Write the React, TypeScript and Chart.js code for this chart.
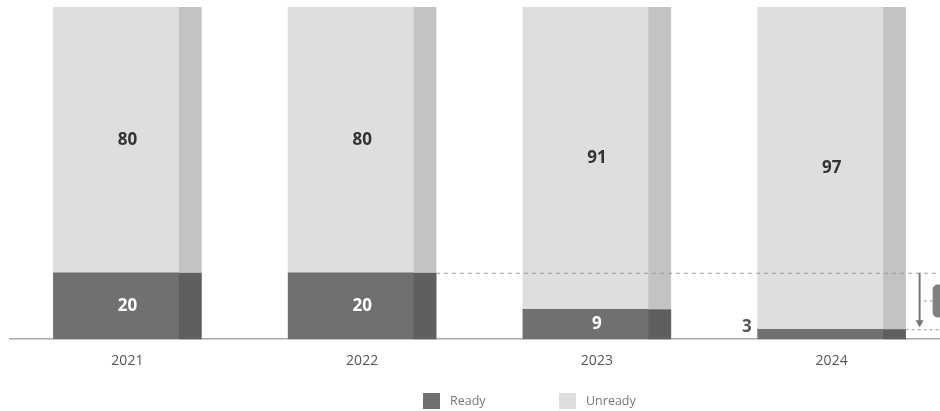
import React, { useEffect, useRef } from "react";
import { Chart, registerables } from "chart.js";

Chart.register(...registerables);

const categories = ["2021", "2022", "2023", "2024"];
const readyValues = [20, 20, 9, 3];
const unreadyValues = [80, 80, 91, 97];
const seriesNames = ["Ready", "Unready"];

const FRONT = ["#707070", "#dedede"];
const SIDE = ["#5f5f5f", "#c3c3c3"];
const FONT = "'Open Sans', 'DejaVu Sans', sans-serif";

const sideFaces = {
  id: "sideFaces",
  afterDatasetsDraw(chart: any) {
    const ctx = chart.ctx;
    ctx.save();
    chart.data.datasets.forEach((_ds: any, di: number) => {
      const meta = chart.getDatasetMeta(di);
      meta.data.forEach((el: any) => {
        const { x, y, base, width } = el.getProps(["x", "y", "base", "width"], true);
        const right = x + width / 2;
        const sw = width * 0.152;
        ctx.fillStyle = SIDE[di];
        ctx.fillRect(right - sw, Math.min(y, base), sw, Math.abs(base - y));
      });
    });
    ctx.restore();
  },
};

const valueLabels = {
  id: "valueLabels",
  afterDatasetsDraw(chart: any) {
    const ctx = chart.ctx;
    ctx.save();
    ctx.font = `bold 17px ${FONT}`;
    ctx.textBaseline = "middle";
    chart.data.datasets.forEach((ds: any, di: number) => {
      const meta = chart.getDatasetMeta(di);
      meta.data.forEach((el: any, i: number) => {
        const { x, y, base, width } = el.getProps(["x", "y", "base", "width"], true);
        const v = ds.data[i];
        const h = Math.abs(base - y);
        if (di === 0 && h < 20) {
          ctx.fillStyle = "#555555";
          ctx.textAlign = "right";
          ctx.fillText(String(v), x - width / 2 - 6, base - 12);
        } else {
          ctx.fillStyle = di === 0 ? "#ffffff" : "#333333";
          ctx.textAlign = "center";
          ctx.fillText(String(v), x, (y + base) / 2);
        }
      });
    });
    ctx.restore();
  },
};

const changeAnnotation = {
  id: "changeAnnotation",
  afterDraw(chart: any) {
    const ctx = chart.ctx;
    const yScale = chart.scales.y;
    const meta = chart.getDatasetMeta(0);
    const el2 = meta.data[1];
    const el4 = meta.data[3];
    const yTop = yScale.getPixelForValue(readyValues[1]);
    const yBot = yScale.getPixelForValue(readyValues[3]);
    const r2 = el2.x + el2.width / 2;
    const r4 = el4.x + el4.width / 2;
    ctx.save();
    ctx.strokeStyle = "#9a9a9a";
    ctx.lineWidth = 1;
    ctx.setLineDash([4, 4]);
    ctx.beginPath();
    ctx.moveTo(r2, yTop + 0.5);
    ctx.lineTo(chart.width, yTop + 0.5);
    ctx.stroke();
    ctx.setLineDash([3, 3]);
    ctx.beginPath();
    ctx.moveTo(r4, yBot + 0.5);
    ctx.lineTo(chart.width, yBot + 0.5);
    ctx.stroke();
    const ax = r4 + 14;
    const mid = (yTop + yBot) / 2;
    ctx.beginPath();
    ctx.moveTo(ax + 4, mid);
    ctx.lineTo(ax + 13, mid);
    ctx.stroke();
    ctx.setLineDash([]);
    ctx.strokeStyle = "#777777";
    ctx.lineWidth = 2;
    ctx.beginPath();
    ctx.moveTo(ax, yTop);
    ctx.lineTo(ax, yBot - 4);
    ctx.stroke();
    ctx.fillStyle = "#777777";
    ctx.beginPath();
    ctx.moveTo(ax - 4, yBot - 9);
    ctx.lineTo(ax + 4, yBot - 9);
    ctx.lineTo(ax, yBot - 2);
    ctx.closePath();
    ctx.fill();
    ctx.fillStyle = "#808080";
    const bx = ax + 13;
    const bw = 70;
    const bh = 33;
    ctx.beginPath();
    (ctx as any).roundRect(bx, mid - bh / 2, bw, bh, 5);
    ctx.fill();
    ctx.restore();
  },
};

const customLegend = {
  id: "customLegend",
  afterDraw(chart: any) {
    const ctx = chart.ctx;
    ctx.save();
    ctx.font = `12.5px ${FONT}`;
    ctx.textBaseline = "middle";
    ctx.textAlign = "left";
    const xs = [423, 559];
    const cy = 401;
    seriesNames.forEach((name, i) => {
      ctx.fillStyle = FRONT[i];
      ctx.fillRect(xs[i], cy - 8, 17, 16);
      ctx.fillStyle = "#777777";
      ctx.fillText(name, xs[i] + 27, cy);
    });
    ctx.restore();
  },
};

export default function App() {
  const ref = useRef<HTMLCanvasElement | null>(null);
  useEffect(() => {
    if (!ref.current) return;
    const chart = new Chart(ref.current, {
      type: "bar",
      data: {
        labels: categories,
        datasets: [
          { label: seriesNames[0], data: readyValues, backgroundColor: FRONT[0], barThickness: 148 },
          { label: seriesNames[1], data: unreadyValues, backgroundColor: FRONT[1], barThickness: 148 },
        ],
      },
      options: {
        animation: false,
        responsive: false,
        maintainAspectRatio: false,
        devicePixelRatio: 1,
        layout: { padding: { left: 10, right: 111, top: 7, bottom: 29 } },
        plugins: {
          legend: { display: false },
          tooltip: { enabled: false },
        },
        scales: {
          x: {
            stacked: true,
            grid: { display: false, drawTicks: false },
            border: { display: true, color: "#aaaaaa", width: 1.5 },
            ticks: { color: "#555555", font: { family: FONT, size: 14 }, padding: 13 },
          },
          y: {
            stacked: true,
            display: false,
            min: 0,
            max: 100,
          },
        },
      },
      plugins: [sideFaces, valueLabels, changeAnnotation, customLegend],
    });
    return () => chart.destroy();
  }, []);
  return (
    <div style={{ position: "absolute", left: 0, top: 0, width: 940, height: 411, overflow: "hidden", background: "#fff" }}>
      <canvas ref={ref} width={1060} height={411} style={{ width: 1060, height: 411, display: "block" }} />
    </div>
  );
}
